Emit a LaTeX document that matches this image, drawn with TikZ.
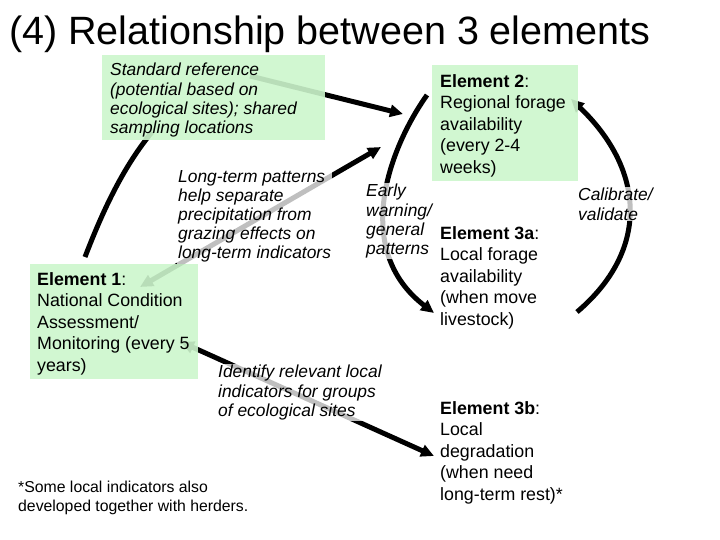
\documentclass[tikz,border=0pt]{standalone}
\usepackage{fontspec}
\setmainfont{Liberation Sans}
\usetikzlibrary{arrows.meta}
\definecolor{boxgreen}{RGB}{204,246,204}
\tikzset{
  box/.style={fill=boxgreen,fill opacity=.9,draw=none},
  txt/.style={anchor=north west,align=left,inner sep=0pt,font=\fontsize{17.8}{21.5}\selectfont},
  lbl/.style={anchor=north west,align=left,inner sep=1pt,fill=white,fill opacity=.75,text opacity=1,
    font=\fontsize{17.4}{19.2}\selectfont\itshape},
  link/.style={line width=5pt,-{Triangle[length=13pt,width=12pt]}},
  both/.style={line width=5pt,{Triangle[length=13pt,width=12pt]}-{Triangle[length=13pt,width=12pt]}}
}
\begin{document}
\begin{tikzpicture}[x=1pt,y=-1pt]
\useasboundingbox (0,0) rectangle (720,540);
\node[anchor=west,inner sep=0pt,font=\fontsize{39.5}{44}\selectfont] (title) at (9,34) {(4) Relationship between 3 elements};

% arrow ends
\coordinate (r1) at (250,76);   \coordinate (e2a) at (403,114);
\coordinate (e1t) at (85,257);  \coordinate (rb) at (152,132);
\coordinate (e1a) at (140,287); \coordinate (e2b) at (381,147);
\coordinate (e2l) at (427,95);  \coordinate (e3a) at (434,313);
\coordinate (e3r) at (577,312); \coordinate (e2r) at (571,99);
\coordinate (e1b) at (181,342); \coordinate (e3b) at (434,456);

% arrows
\draw[link] (r1) -- (e2a);
\draw[line width=5pt] (e1t) .. controls (105,205) and (125,165) .. (rb);
\draw[both] (e1a) -- (e2b);
\draw[link] (e2l) .. controls (388,150) and (352,250) .. (e3a);
\draw[link] (e3r) .. controls (650,250) and (645,170) .. (e2r);
\draw[both] (e1b) -- (e3b);

% boxes
\fill[box] (102,55) rectangle (325,140);
\fill[box] (432,65) rectangle (578,181);
\fill[box] (30,264) rectangle (198,379);

\node[lbl,inner sep=0pt,fill=none] (std) at (110,63) {Standard reference\\(potential based on\\ecological sites); shared\\sampling locations};
\node[lbl] (long) at (177,169) {Long-term patterns\\help separate\\precipitation from\\grazing effects on\\long-term indicators};
\node[lbl] (early) at (365,183) {Early\\warning/\\general\\patterns};
\node[lbl] (calib) at (577,187) {Calibrate/\\validate};
\node[lbl] (ident) at (217,364) {Identify relevant local\\indicators for groups\\of ecological sites};

\node[txt] (el2) at (440,74) {\textbf{Element 2}:\\Regional forage\\availability\\(every 2-4\\weeks)};
\node[txt] (el3a) at (440,226) {\textbf{Element 3a}:\\Local forage\\availability\\(when move\\livestock)};
\node[txt] (el1) at (37,272) {\textbf{Element 1}:\\National Condition\\Assessment/\\Monitoring (every 5\\years)};
\node[txt] (el3b) at (440,401) {\textbf{Element 3b}:\\Local\\degradation\\(when need\\long-term rest)*};
\node[txt,font=\fontsize{15.8}{19}\selectfont] (note) at (18,481) {*Some local indicators also\\developed together with herders.};
\end{tikzpicture}
\end{document}
